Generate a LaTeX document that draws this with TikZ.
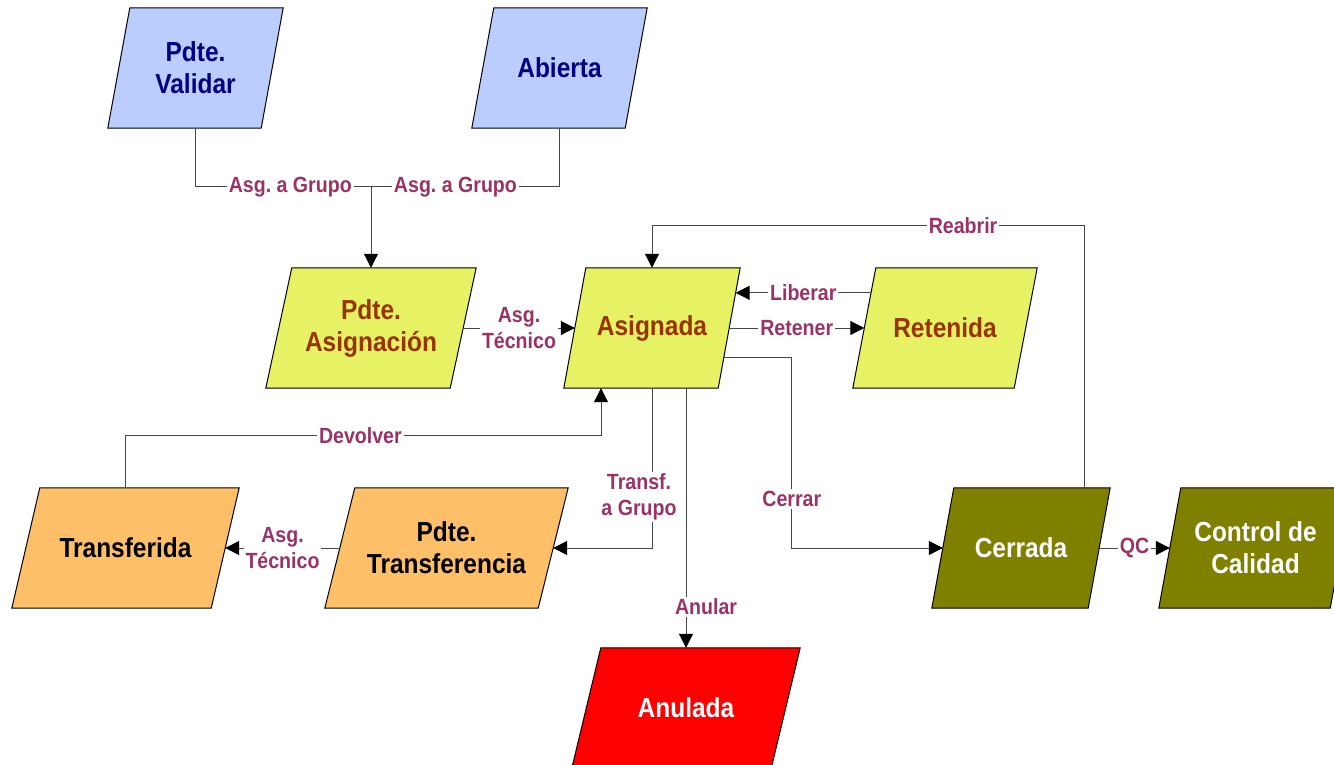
\documentclass[tikz,border=0pt]{standalone}
\usepackage{fontspec}
\usetikzlibrary{calc,arrows.meta}
\newfontfamily\narrowsans{Liberation Sans}[FakeStretch=0.89]
\frenchspacing

\definecolor{bluefill}{RGB}{187,204,255}
\definecolor{bluetext}{RGB}{0,0,128}
\definecolor{limefill}{RGB}{230,242,100}
\definecolor{limetext}{RGB}{153,51,0}
\definecolor{orangefill}{RGB}{253,192,104}
\definecolor{olivefill}{RGB}{128,128,0}
\definecolor{redfill}{RGB}{255,0,0}
\definecolor{lblcol}{RGB}{153,51,102}
\definecolor{linecol}{RGB}{70,70,70}

\pgfdeclarelayer{backdrop}
\pgfdeclarelayer{background}
\pgfsetlayers{backdrop,background,main}

% parallelogram behind a state node: #1 node name, #2 slant, #3 fill colour
\newcommand\pgram[3]{%
  \begin{pgfonlayer}{background}
    \filldraw[fill=#3,draw=black,line width=1pt,line join=miter]
      ($(#1.north west)+(#2,0)$) -- (#1.north east)
      -- ($(#1.south east)-(#2,0)$) -- (#1.south west) -- cycle;
  \end{pgfonlayer}}

\tikzset{
  state/.style={inner sep=0pt,minimum height=120pt,align=center,
    font=\narrowsans\bfseries\fontsize{27.5}{32}\selectfont},
  lbl/.style={fill=white,inner sep=2pt,text=lblcol,align=center,
    font=\narrowsans\bfseries\fontsize{22}{26}\selectfont},
  conn/.style={draw=linecol,line width=1pt},
  arr/.style={conn,-{Triangle[length=14pt,width=14pt,color=black]}},
}

\begin{document}
\begin{tikzpicture}[x=1pt,y=-1pt]
\clip (0,0) rectangle (1334,765);
\begin{pgfonlayer}{backdrop}
  \fill[white] (0,0) rectangle (1334,765);
\end{pgfonlayer}

% states
\node[state,minimum width=175pt,text=bluetext] (pv) at (195.5,68) {Pdte.\\Validar};
\node[state,minimum width=175pt,text=bluetext] (ab) at (559.5,68) {Abierta};
\node[state,minimum width=210pt,text=limetext] (pa) at (371,328) {Pdte.\\Asignación};
\node[state,minimum width=176pt,text=limetext] (as) at (652,328) {Asignada};
\node[state,minimum width=184pt,text=limetext] (re) at (945,328) {Retenida};
\node[state,minimum width=227pt,text=black] (tr) at (125.5,548) {Transferida};
\node[state,minimum width=243pt,text=black] (pt) at (446.5,548) {Pdte.\\Transferencia};
\node[state,minimum width=178pt,text=white] (ce) at (1021,548) {Cerrada};
\node[state,minimum width=193pt,text=white] (cc) at (1255.5,548) {Control de\\Calidad};
\node[state,minimum width=228pt,text=white] (an) at (686,708) {Anulada};

\pgram{pv}{22}{bluefill}
\pgram{ab}{22}{bluefill}
\pgram{pa}{26}{limefill}
\pgram{as}{22}{limefill}
\pgram{re}{23}{limefill}
\pgram{tr}{28}{orangefill}
\pgram{pt}{30}{orangefill}
\pgram{ce}{22}{olivefill}
\pgram{cc}{22}{olivefill}
\pgram{an}{29}{redfill}

% junction where both group assignments meet
\coordinate (jn) at ($(pa.north)+(0,-81)$);

% connectors
\draw[conn] (pv.south) |- node[lbl,pos=0.77] {Asg. a Grupo} (jn);
\draw[conn] (ab.south) |- node[lbl,pos=0.776] {Asg. a Grupo} (jn);
\draw[arr] (jn) -- (pa.north);

\draw[arr] ($(pa.east)+(-13,0)$) -- node[lbl] {Asg.\\Técnico} ($(as.west)+(11,0)$);

\draw[arr] ($(re.north west)!0.208!(re.south west)+(18.2,0)$)
  -- node[lbl] {Liberar} ($(as.north east)!0.208!(as.south east)+(-4.6,0)$);
\draw[arr] ($(as.east)+(-11,0)$) -- node[lbl] {Retener} ($(re.west)+(11.5,0)$);

\draw[arr] ($(as.north east)!0.742!(as.south east)+(-16.3,0)$)
  -| ($(ce.west)+(-140,-49)$) node[lbl] {Cerrar} |- ($(ce.west)+(11,0)$);

\draw[arr] ($(ce.north)+(63,0)$) |- node[lbl,pos=0.64] {Reabrir} ($(as.north)+(0,-42)$)
  -- (as.north);

\draw[arr] (tr.north) |- node[lbl,pos=0.747] {Devolver} ($(as.south)+(-51,47)$)
  -- ($(as.south)+(-51,0)$);

\draw[arr] (as.south) |- node[lbl,pos=0.34,xshift=-13pt] {Transf.\\a Grupo} ($(pt.east)+(-15,0)$);

\draw[arr] (an.north |- as.south) -- node[lbl,pos=0.842,xshift=20pt] {Anular} (an.north);

\draw[arr] ($(pt.west)+(15,0)$) -- node[lbl] {Asg.\\Técnico} ($(tr.east)+(-14,0)$);

\draw[arr] ($(ce.east)+(-11,0)$) -- node[lbl] {QC} ($(cc.west)+(11,0)$);
\end{tikzpicture}
\end{document}
